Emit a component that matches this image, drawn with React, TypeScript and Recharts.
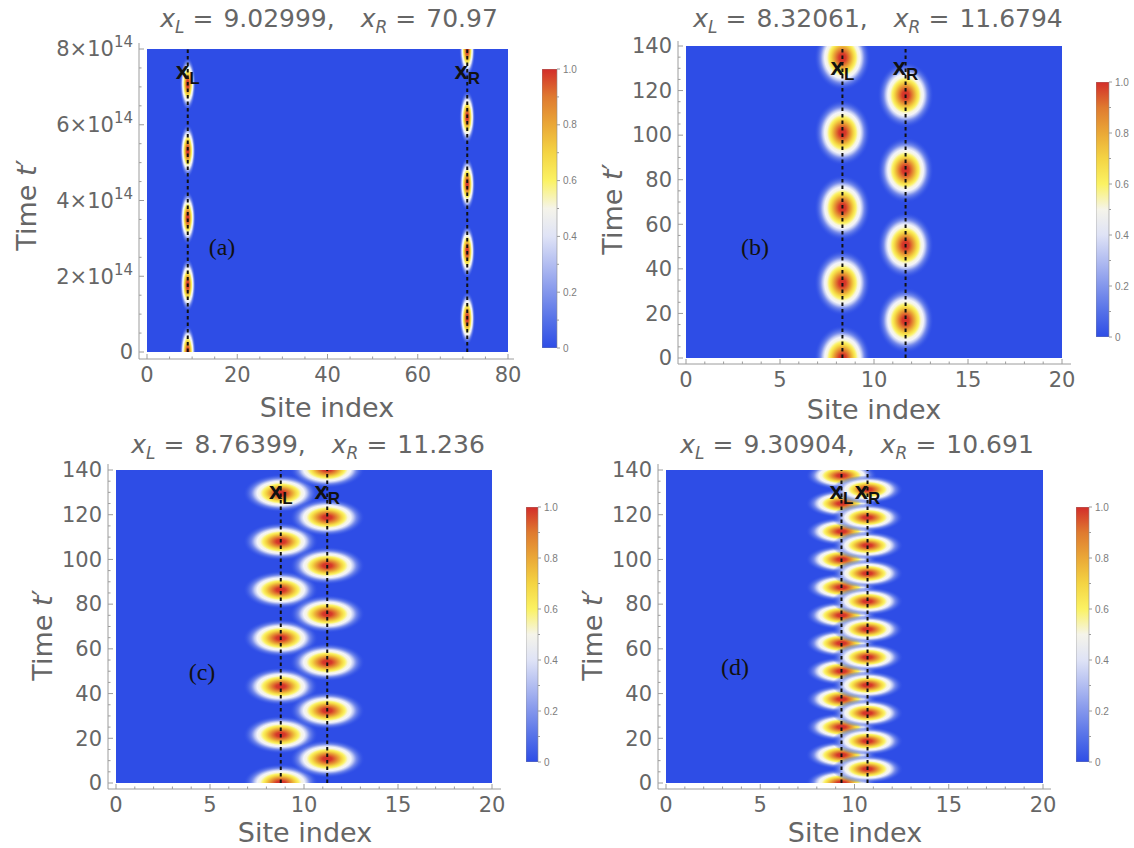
import React from "react";
import {
  ScatterChart,
  ComposedChart,
  Scatter,
  XAxis,
  YAxis,
  ReferenceArea,
  ReferenceLine,
  ReferenceDot,
  Bar,
} from "recharts";

const BLUE = "#2e4de6";
const INK = "#666666";
const FRAME = "#9c9c9c";
const SANS = "'DejaVu Sans', sans-serif";

// blob centres (time of each density maximum)
const aLeftTimes = [0, 1.77e14, 3.54e14, 5.31e14, 7.08e14];
const aRightTimes = [0.89e14, 2.66e14, 4.43e14, 6.2e14, 7.97e14];
const bLeftTimes = [0, 33.7, 67.4, 101.1, 134.8];
const bRightTimes = [16.9, 50.6, 84.3, 118];
const cLeftTimes = [0, 21.6, 43.2, 64.8, 86.4, 108, 129.6];
const cRightTimes = [10.8, 32.4, 54, 75.6, 97.2, 118.8, 140.4];
const dLeftTimes = [0, 12.5, 25, 37.5, 50, 62.5, 75, 87.5, 100, 112.5, 125, 137.5];
const dRightTimes = [6.25, 18.75, 31.25, 43.75, 56.25, 68.75, 81.25, 93.75, 106.25, 118.75, 131.25];

// tick labels
const aXTicks = [0, 20, 40, 60, 80];
const aYTicks = [0, 2e14, 4e14, 6e14, 8e14];
const siteTicks = [0, 5, 10, 15, 20];
const timeTicks = [0, 20, 40, 60, 80, 100, 120, 140];
const colorTicks = [0, 0.2, 0.4, 0.6, 0.8, 1];
const cbarData = [{ k: "c", v: 1 }];

const range = (a: number, b: number, s: number) => {
  const out: number[] = [];
  for (let v = a; v <= b + s * 1e-6; v += s) out.push(+v.toPrecision(12));
  return out;
};

// colour map (ThermometerColors-like)
const CB_STOPS: [number, string][] = [
  [0, "#2e4de6"],
  [0.1, "#5571e8"],
  [0.2, "#8396ec"],
  [0.3, "#b2bdf1"],
  [0.4, "#dfe3f6"],
  [0.5, "#f5f4ea"],
  [0.6, "#fbf263"],
  [0.7, "#f4d443"],
  [0.8, "#eaa837"],
  [0.9, "#df7a30"],
  [1, "#d32d2a"],
];
const BLOB_STOPS: [number, string, number][] = [
  [0, "#d32d2a", 1],
  [0.12, "#d63a2a", 1],
  [0.22, "#e0752f", 1],
  [0.31, "#eaa837", 1],
  [0.39, "#f4d443", 1],
  [0.47, "#fbf263", 1],
  [0.55, "#f8f6df", 1],
  [0.63, "#f1f2fa", 1],
  [0.7, "#c3ccf3", 0.95],
  [0.78, "#8396ec", 0.8],
  [0.88, "#5571e8", 0.5],
  [1, BLUE, 0],
];

type Box = { x: number; y: number; w: number; h: number };
type Panel = {
  id: string;
  tag: string;
  xL: number;
  xR: number;
  xLText: string;
  xRText: string;
  leftTimes: number[];
  rightTimes: number[];
  xMax: number;
  yMax: number;
  xTicks: number[];
  yTicks: number[];
  xMinor: number[];
  yMinor: number[];
  sci?: boolean;
  rx: number;
  ry: number;
  labelT: number;
  frame: Box;
  pad: { l: number; r: number; t: number; b: number };
  cbar: Box;
  titleAt: [number, number];
  siteAt: [number, number];
  timeAt: [number, number];
  tagAt: [number, number];
};

const panels: Panel[] = [
  {
    id: "a", tag: "(a)", xL: 9.02999, xR: 70.97, xLText: "9.02999", xRText: "70.97",
    leftTimes: aLeftTimes, rightTimes: aRightTimes, xMax: 80, yMax: 8e14,
    xTicks: aXTicks, yTicks: aYTicks, xMinor: range(0, 80, 5), yMinor: range(0, 8e14, 5e13), sci: true,
    rx: 1.8, ry: 0.72e14, labelT: 7.4e14,
    frame: { x: 139, y: 43, w: 375, h: 316 }, pad: { l: 8, r: 6, t: 6, b: 7 },
    cbar: { x: 542, y: 69, w: 15, h: 279 },
    titleAt: [329, 18], siteAt: [327, 407], timeAt: [26, 205], tagAt: [222, 247],
  },
  {
    id: "b", tag: "(b)", xL: 8.32061, xR: 11.6794, xLText: "8.32061", xRText: "11.6794",
    leftTimes: bLeftTimes, rightTimes: bRightTimes, xMax: 20, yMax: 140,
    xTicks: siteTicks, yTicks: timeTicks, xMinor: range(0, 20, 1), yMinor: range(0, 140, 5),
    rx: 1.5, ry: 14.8, labelT: 130,
    frame: { x: 678, y: 41, w: 393, h: 323 }, pad: { l: 8, r: 9, t: 5, b: 6 },
    cbar: { x: 1096, y: 82, w: 13, h: 255 },
    titleAt: [878, 18], siteAt: [874, 409], timeAt: [612, 209], tagAt: [755, 247],
  },
  {
    id: "c", tag: "(c)", xL: 8.76399, xR: 11.236, xLText: "8.76399", xRText: "11.236",
    leftTimes: cLeftTimes, rightTimes: cRightTimes, xMax: 20, yMax: 140,
    xTicks: siteTicks, yTicks: timeTicks, xMinor: range(0, 20, 1), yMinor: range(0, 140, 5),
    rx: 2.0, ry: 8.5, labelT: 130,
    frame: { x: 108, y: 464, w: 393, h: 325 }, pad: { l: 8, r: 9, t: 6, b: 6 },
    cbar: { x: 526, y: 507, w: 12, h: 255 },
    titleAt: [308, 444], siteAt: [305, 832], timeAt: [42, 635], tagAt: [202, 672],
  },
  {
    id: "d", tag: "(d)", xL: 9.30904, xR: 10.691, xLText: "9.30904", xRText: "10.691",
    leftTimes: dLeftTimes, rightTimes: dRightTimes, xMax: 20, yMax: 140,
    xTicks: siteTicks, yTicks: timeTicks, xMinor: range(0, 20, 1), yMinor: range(0, 140, 5),
    rx: 1.9, ry: 6.4, labelT: 130,
    frame: { x: 658, y: 464, w: 393, h: 325 }, pad: { l: 8, r: 8, t: 6, b: 6 },
    cbar: { x: 1076, y: 507, w: 13, h: 255 },
    titleAt: [857, 444], siteAt: [855, 832], timeAt: [592, 635], tagAt: [735, 667],
  },
];

type Side = "left" | "bottom" | "top" | "right" | "out";

// draws inward Mathematica-style frame ticks (major + minor) and the labels of major ticks
const tickRenderer = (
  side: Side,
  majors: number[],
  gap: number,
  label?: (v: number) => React.ReactNode,
  opt: { font?: number; family?: string; color?: string; major?: number; minor?: number } = {}
) => (props: any) => {
  const { x, y, payload } = props;
  const v: number = payload.value;
  const isMajor = majors.some((m) => Math.abs(m - v) <= Math.abs(m) * 1e-9 + 1e-9);
  const len = isMajor ? opt.major ?? 5 : opt.minor ?? 2.5;
  let l: [number, number, number, number];
  if (side === "left") l = [x + gap, y, x + gap + len, y];
  else if (side === "bottom") l = [x, y - gap, x, y - gap - len];
  else if (side === "top") l = [x, y + gap, x, y + gap + len];
  else if (side === "right") l = [x - gap, y, x - gap - len, y];
  else l = [x - gap, y, x - gap + len, y];
  const anchor = side === "left" ? "end" : side === "bottom" ? "middle" : "start";
  const dy = side === "bottom" ? "0.75em" : "0.35em";
  return (
    <g>
      <line x1={l[0]} y1={l[1]} x2={l[2]} y2={l[3]} stroke={FRAME} strokeWidth={1} />
      {isMajor && label && (
        <text
          x={x}
          y={y}
          dy={dy}
          textAnchor={anchor}
          fontFamily={opt.family ?? SANS}
          fontSize={opt.font ?? 21}
          fill={opt.color ?? INK}
        >
          {label(v)}
        </text>
      )}
    </g>
  );
};

const sciLabel = (v: number) =>
  v === 0 ? (
    "0"
  ) : (
    <>
      {Math.round(v / 1e14)}×10
      <tspan dy={-9} fontSize={15}>
        14
      </tspan>
    </>
  );

const Var = ({ s }: { s: string }) => (
  <>
    <i>x</i>
    <span style={{ fontSize: 17, fontStyle: "italic", position: "relative", top: 6 }}>{s}</span>
  </>
);
const Eq = () => <span style={{ margin: "0 10px 0 8px" }}>=</span>;

const centred = (at: [number, number], extra = ""): React.CSSProperties => ({
  position: "absolute",
  left: at[0],
  top: at[1],
  transform: `translate(-50%, -50%) ${extra}`,
  whiteSpace: "nowrap",
  lineHeight: 1,
});

function ColorBar({ b }: { b: Box }) {
  const LW = 34;
  const M = 8;
  return (
    <div style={{ position: "absolute", left: b.x, top: b.y - M }}>
      <ComposedChart
        width={b.w + LW}
        height={b.h + 2 * M}
        data={cbarData}
        margin={{ top: M, bottom: M, left: 0, right: 0 }}
        barCategoryGap={0}
      >
        <XAxis dataKey="k" hide />
        <YAxis
          orientation="right"
          type="number"
          domain={[0, 1]}
          allowDataOverflow
          ticks={range(0, 1, 0.1)}
          interval={0}
          width={LW}
          axisLine={false}
          tickLine={false}
          tickSize={0}
          tickMargin={6}
          tick={tickRenderer("out", colorTicks, 6, (v) => (v === 0 ? "0" : v.toFixed(1)), {
            font: 10,
            family: "'Liberation Sans', Arial, sans-serif",
            color: "#7d7d7d",
            major: 3,
            minor: 2,
          })}
        />
        <Bar dataKey="v" fill="url(#cbarGrad)" stroke="#8d8d8d" strokeWidth={0.6} isAnimationActive={false} />
      </ComposedChart>
    </div>
  );
}

function PanelView({ p }: { p: Panel }) {
  const AXW = 110;
  const MT = 22;
  const MR = 8;
  const XAH = 44;
  const clipId = `clip-${p.id}`;
  const yFmt = p.sci ? sciLabel : (v: number) => String(v);
  const centers = [
    ...p.leftTimes.map((t) => ({ x: p.xL, t })),
    ...p.rightTimes.map((t) => ({ x: p.xR, t })),
  ];

  const background = (r: any) => (
    <g>
      <defs>
        <clipPath id={clipId}>
          <rect x={r.x} y={r.y} width={r.width} height={r.height} />
        </clipPath>
      </defs>
      <rect x={r.x} y={r.y} width={r.width} height={r.height} fill={BLUE} />
    </g>
  );
  const blob = (r: any) => (
    <ellipse
      cx={r.x + r.width / 2}
      cy={r.y + r.height / 2}
      rx={Math.abs(r.width) / 2}
      ry={Math.abs(r.height) / 2}
      fill="url(#blobGrad)"
      clipPath={`url(#${clipId})`}
    />
  );
  const marker = (sub: string) => (d: any) => (
    <text
      x={d.cx}
      y={d.cy + 7}
      textAnchor="middle"
      fontFamily="'Liberation Sans', Arial, sans-serif"
      fontWeight="bold"
      fontSize={24}
      fill="#111"
    >
      x
      <tspan fontSize={17} dy={5}>
        {sub}
      </tspan>
    </text>
  );

  const common = { type: "number" as const, allowDataOverflow: true, interval: 0 as const, tickLine: false, tickSize: 0 };

  return (
    <>
      <div style={{ position: "absolute", left: p.frame.x - AXW, top: p.frame.y - MT }}>
        <ScatterChart
          width={AXW + p.frame.w + MR}
          height={MT + p.frame.h + XAH}
          margin={{ top: MT, right: MR, bottom: 0, left: 0 }}
        >
          <XAxis
            {...common}
            xAxisId={0}
            dataKey="x"
            domain={[0, p.xMax]}
            ticks={p.xMinor}
            padding={{ left: p.pad.l, right: p.pad.r }}
            height={XAH}
            axisLine={{ stroke: FRAME }}
            tickMargin={7}
            tick={tickRenderer("bottom", p.xTicks, 7, (v) => String(v))}
          />
          <XAxis
            {...common}
            xAxisId="top"
            dataKey="x"
            orientation="top"
            domain={[0, p.xMax]}
            ticks={p.xMinor}
            padding={{ left: p.pad.l, right: p.pad.r }}
            height={0}
            axisLine={{ stroke: FRAME }}
            tickMargin={0}
            tick={tickRenderer("top", p.xTicks, 0)}
          />
          <YAxis
            {...common}
            yAxisId={0}
            dataKey="t"
            domain={[0, p.yMax]}
            ticks={p.yMinor}
            padding={{ top: p.pad.t, bottom: p.pad.b }}
            width={AXW}
            axisLine={{ stroke: FRAME }}
            tickMargin={6}
            tick={tickRenderer("left", p.yTicks, 6, yFmt)}
          />
          <YAxis
            {...common}
            yAxisId="right"
            dataKey="t"
            orientation="right"
            domain={[0, p.yMax]}
            ticks={p.yMinor}
            padding={{ top: p.pad.t, bottom: p.pad.b }}
            width={0}
            axisLine={{ stroke: FRAME }}
            tickMargin={0}
            tick={tickRenderer("right", p.yTicks, 0)}
          />
          <ReferenceArea x1={0} x2={p.xMax} y1={0} y2={p.yMax} ifOverflow="visible" shape={background} />
          {p.leftTimes.map((t, i) => (
            <ReferenceArea
              key={`l${i}`}
              x1={p.xL - p.rx}
              x2={p.xL + p.rx}
              y1={t - p.ry}
              y2={t + p.ry}
              ifOverflow="visible"
              shape={blob}
            />
          ))}
          {p.rightTimes.map((t, i) => (
            <ReferenceArea
              key={`r${i}`}
              x1={p.xR - p.rx}
              x2={p.xR + p.rx}
              y1={t - p.ry}
              y2={t + p.ry}
              ifOverflow="visible"
              shape={blob}
            />
          ))}
          <Scatter data={centers} xAxisId={0} yAxisId={0} shape={() => <g />} isAnimationActive={false} />
          <Scatter data={centers} xAxisId="top" yAxisId="right" shape={() => <g />} isAnimationActive={false} />
          <ReferenceLine
            segment={[{ x: p.xL, y: 0 }, { x: p.xL, y: p.yMax }]}
            stroke="#111"
            strokeWidth={2}
            strokeDasharray="3.5 3"
          />
          <ReferenceLine
            segment={[{ x: p.xR, y: 0 }, { x: p.xR, y: p.yMax }]}
            stroke="#111"
            strokeWidth={2}
            strokeDasharray="3.5 3"
          />
          <ReferenceDot x={p.xL} y={p.labelT} r={1} shape={marker("L")} />
          <ReferenceDot x={p.xR} y={p.labelT} r={1} shape={marker("R")} />
        </ScatterChart>
      </div>
      <ColorBar b={p.cbar} />
      <div style={{ ...centred(p.titleAt), fontFamily: SANS, fontSize: 25, color: INK }}>
        <Var s="L" />
        <Eq />
        {p.xLText},<span style={{ display: "inline-block", width: 26 }} />
        <Var s="R" />
        <Eq />
        {p.xRText}
      </div>
      <div style={{ ...centred(p.siteAt), fontFamily: SANS, fontSize: 27, color: INK }}>Site index</div>
      <div style={{ ...centred(p.timeAt, "rotate(-90deg)"), fontFamily: SANS, fontSize: 27, color: INK }}>
        Time <i>t</i>′
      </div>
      <div style={{ ...centred(p.tagAt), fontFamily: "'Liberation Serif', serif", fontSize: 24, color: "#111" }}>
        {p.tag}
      </div>
    </>
  );
}

export default function App() {
  return (
    <div
      style={{
        position: "absolute",
        left: 0,
        top: 0,
        width: 1134,
        height: 848,
        background: "#fff",
        overflow: "hidden",
      }}
    >
      <svg width={0} height={0} style={{ position: "absolute" }}>
        <defs>
          <radialGradient id="blobGrad" cx="50%" cy="50%" r="50%">
            {BLOB_STOPS.map(([o, c, op], i) => (
              <stop key={i} offset={o} stopColor={c} stopOpacity={op} />
            ))}
          </radialGradient>
          <linearGradient id="cbarGrad" x1="0" y1="1" x2="0" y2="0">
            {CB_STOPS.map(([o, c], i) => (
              <stop key={i} offset={o} stopColor={c} />
            ))}
          </linearGradient>
        </defs>
      </svg>
      {panels.map((p) => (
        <PanelView key={p.id} p={p} />
      ))}
    </div>
  );
}
